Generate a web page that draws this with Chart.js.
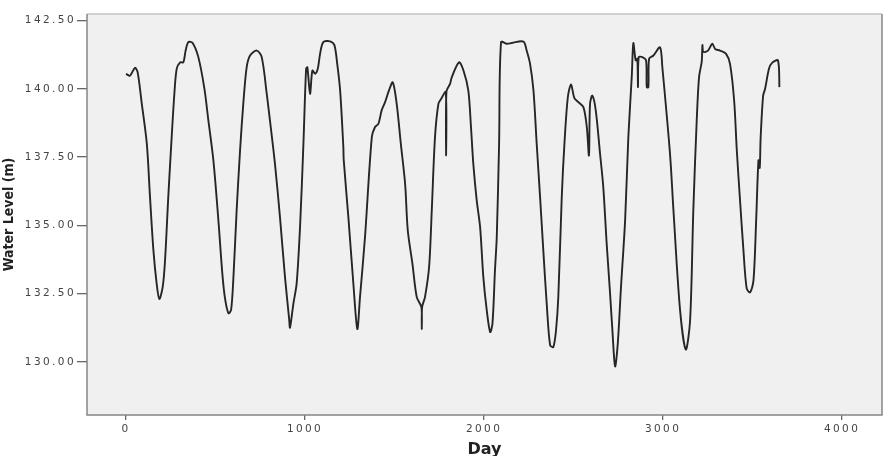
<!DOCTYPE html>
<html>
<head>
<meta charset="utf-8">
<script src="https://cdn.jsdelivr.net/npm/chart.js@4"></script>
<style>
  html, body { margin: 0; padding: 0; background: #fff; }
  #wrap { width: 891px; height: 456px; }
</style>
</head>
<body>
<div id="wrap"><canvas id="levelChart" width="891" height="456"></canvas></div>
<script>
// values
const days = [
    0, 22, 50, 65, 88, 116, 134, 153, 171, 186, 205, 218, 236, 255, 270, 283, 302, 320, 333, 348,
    372, 404, 438, 460, 488, 516, 538, 553, 572, 587, 600, 618, 637, 655, 674, 693, 730, 758, 786, 804,
    832, 860, 888, 911, 916, 935, 953, 972, 991, 1006, 1013, 1028, 1041, 1056, 1071, 1084, 1102, 1140, 1164, 1180,
    1196, 1214, 1216, 1242, 1270, 1292, 1307, 1335, 1373, 1391, 1410, 1428, 1447, 1469, 1490, 1512, 1535, 1559, 1574, 1600,
    1624, 1650, 1652, 1654, 1670, 1693, 1708, 1726, 1745, 1760, 1786, 1788, 1790, 1810, 1820, 1860, 1885, 1912, 1927, 1940,
    1959, 1978, 1996, 2015, 2034, 2047, 2061, 2071, 2084, 2095, 2127, 2155, 2220, 2238, 2257, 2276, 2294, 2313, 2331, 2350,
    2369, 2387, 2402, 2415, 2434, 2449, 2468, 2486, 2504, 2527, 2555, 2574, 2586, 2592, 2605, 2624, 2648, 2666, 2685, 2704,
    2717, 2732, 2747, 2765, 2788, 2806, 2825, 2834, 2847, 2856, 2860, 2864, 2884, 2905, 2909, 2918, 2922, 2946, 2983, 2996,
    3039, 3058, 3095, 3127, 3151, 3169, 3188, 3201, 3216, 3220, 3225, 3251, 3275, 3291, 3318, 3352, 3374, 3397, 3412, 3430,
    3449, 3467, 3486, 3505, 3520, 3533, 3540, 3545, 3559, 3570, 3592, 3610, 3642, 3650
];
const levels = [
    140.55, 140.48, 140.77, 140.60, 139.46, 138.00, 136.03, 134.08, 132.87, 132.30, 132.74, 133.72, 136.03, 138.23, 139.82, 140.73, 140.97, 140.97, 141.40, 141.71,
    141.68, 141.16, 140.00, 138.84, 137.38, 135.18, 133.23, 132.32, 131.78, 131.90, 133.10, 135.55, 137.74, 139.45, 140.79, 141.22, 141.40, 141.16, 139.82, 138.84,
    137.25, 135.30, 133.10, 131.58, 131.25, 132.13, 132.86, 134.93, 137.99, 140.73, 140.79, 139.82, 140.67, 140.55, 140.73, 141.28, 141.71, 141.74, 141.60, 140.90,
    139.94, 137.86, 137.40, 135.30, 132.86, 131.20, 132.37, 134.57, 138.23, 138.60, 138.72, 139.21, 139.51, 139.94, 140.24, 139.45, 137.99, 136.52, 134.81, 133.59,
    132.37, 132.00, 131.20, 132.00, 132.37, 133.47, 135.55, 138.23, 139.45, 139.63, 139.88, 137.56, 139.90, 140.18, 140.43, 140.97, 140.67, 139.94, 138.60, 137.25,
    135.91, 134.93, 133.10, 131.89, 131.09, 131.40, 133.35, 134.57, 137.99, 141.71, 141.65, 141.68, 141.73, 141.40, 140.91, 139.94, 137.99, 136.03, 134.08, 132.13,
    130.61, 130.54, 131.15, 132.40, 136.03, 137.99, 139.69, 140.16, 139.67, 139.51, 139.33, 138.60, 137.56, 139.45, 139.75, 139.21, 137.62, 136.40, 134.33, 132.50,
    131.15, 129.83, 130.67, 132.74, 135.18, 138.23, 140.43, 141.67, 141.04, 141.10, 140.06, 141.16, 141.16, 141.04, 140.06, 140.06, 141.10, 141.22, 141.52, 140.79,
    137.60, 135.55, 131.89, 130.45, 131.52, 135.55, 138.84, 140.43, 141.00, 141.60, 141.35, 141.40, 141.65, 141.46, 141.40, 141.28, 140.91, 139.57, 137.74, 135.91,
    134.08, 132.69, 132.54, 132.98, 135.18, 137.38, 137.10, 138.20, 139.75, 140.00, 140.74, 140.96, 141.04, 140.06
];
const xTicks = [0, 1000, 2000, 3000, 4000];
const yTicks = [130, 132.5, 135, 137.5, 140, 142.5];

const points = days.map((d, i) => ({ x: d, y: levels[i] }));

// plot background, frame and label spacing
const framePlugin = {
    id: "frame",
    beforeDraw(chart) {
        const { ctx, chartArea: a } = chart;
        ctx.letterSpacing = "0px";
        ctx.save();
        ctx.fillStyle = "#f0f0f0";
        ctx.fillRect(a.left, a.top, a.right - a.left, a.bottom - a.top);
        ctx.restore();
    },
    afterDatasetsDraw(chart) {
        chart.ctx.letterSpacing = "2.4px";
    },
    afterDraw(chart) {
        const { ctx, chartArea: a } = chart;
        ctx.letterSpacing = "0px";
        ctx.save();
        ctx.lineWidth = 1.5;
        ctx.strokeStyle = "#c4c4c4";
        ctx.beginPath();
        ctx.moveTo(a.left, a.top);
        ctx.lineTo(a.right, a.top);
        ctx.stroke();
        ctx.strokeStyle = "#858585";
        ctx.beginPath();
        ctx.moveTo(a.left, a.top);
        ctx.lineTo(a.left, a.bottom);
        ctx.lineTo(a.right, a.bottom);
        ctx.lineTo(a.right, a.top);
        ctx.stroke();
        ctx.restore();
    },
};

new Chart(document.getElementById("levelChart"), {
    type: "scatter",
    data: {
        datasets: [
            {
                data: points,
                showLine: true,
                borderColor: "#262626",
                borderWidth: 1.9,
                pointRadius: 0,
                tension: 0.3,
            },
        ],
    },
    options: {
        responsive: false,
        animation: false,
        layout: { padding: { top: 14, right: 9, left: 0, bottom: 0 } },
        plugins: { legend: { display: false }, tooltip: { enabled: false } },
        scales: {
            x: {
                type: "linear",
                min: -218,
                max: 4223,
                afterBuildTicks: (scale) => {
                    scale.ticks = xTicks.map((v) => ({ value: v }));
                },
                afterFit: (scale) => {
                    scale.height = 41;
                },
                border: { display: false },
                grid: { drawOnChartArea: false, drawTicks: true, tickLength: 5, color: "#666", lineWidth: 1.3 },
                ticks: {
                    z: 1,
                    padding: 3,
                    maxRotation: 0,
                    color: "#444",
                    font: { family: "'DejaVu Sans', sans-serif", size: 10.5 },
                    callback: (v) => String(v),
                },
                title: {
                    display: true,
                    text: "Day",
                    color: "#222",
                    padding: { top: 0, bottom: -2 },
                    font: { family: "'DejaVu Sans', sans-serif", size: 16, weight: "bold", lineHeight: 1 },
                },
            },
            y: {
                type: "linear",
                min: 128.05,
                max: 142.74,
                afterBuildTicks: (scale) => {
                    scale.ticks = yTicks.map((v) => ({ value: v }));
                },
                afterFit: (scale) => {
                    scale.width = 87;
                },
                border: { display: false },
                grid: { drawOnChartArea: false, drawTicks: true, tickLength: 10, color: "#666", lineWidth: 1.3 },
                ticks: {
                    z: 1,
                    padding: 1,
                    color: "#444",
                    font: { family: "'DejaVu Sans', sans-serif", size: 10.5 },
                    callback: (v) => Number(v).toFixed(2),
                },
                title: {
                    display: true,
                    text: "Water Level (m)",
                    color: "#222",
                    padding: { top: 1, bottom: 0 },
                    font: { family: "'Liberation Sans Narrow', 'DejaVu Sans Condensed', sans-serif", size: 14, weight: "bold", lineHeight: 1.2 },
                },
            },
        },
    },
    plugins: [framePlugin],
});
</script>
</body>
</html>
